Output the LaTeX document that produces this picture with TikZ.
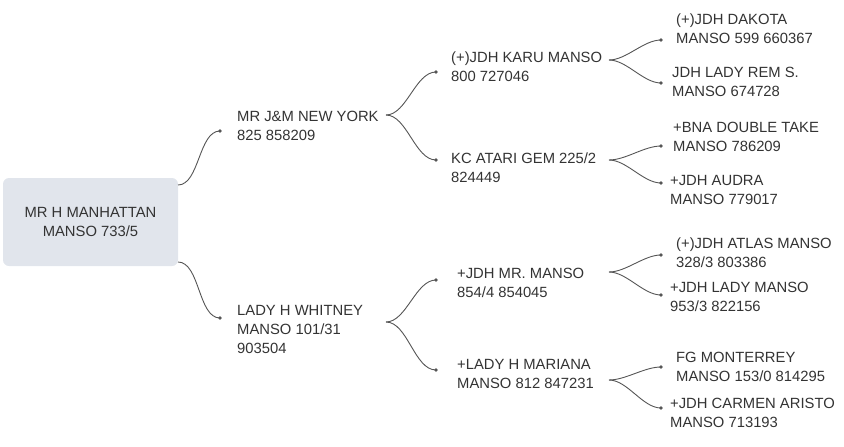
\documentclass[tikz,border=0pt]{standalone}
\usepackage{fontspec}
\setmainfont{Liberation Sans}
\definecolor{boxc}{HTML}{E1E5EC}
\definecolor{txt}{HTML}{333333}
\definecolor{ln}{HTML}{555555}
\begin{document}
\begin{tikzpicture}[x=1pt,y=-1pt,
  lbl/.style={anchor=north west,align=left,inner sep=0pt,text=txt,font=\fontsize{14.8}{19}\selectfont},
  con/.style={draw=ln,line width=0.9pt},
  dot/.style={circle,fill=ln,inner sep=0pt,minimum size=3.6pt}]
\useasboundingbox (0,0) rectangle (844,447);
\node[fill=boxc,rounded corners=6pt,minimum width=175pt,minimum height=88pt,inner sep=0pt,align=center,text=txt,font=\fontsize{14.8}{19}\selectfont] (root) at (90.5,222) {MR H MANHATTAN\\MANSO 733/5};
% level 1
\node[lbl] (ny) at (237,111) {MR J\&M NEW YORK\\825 858209};
\node[lbl] (wh) at (237,305) {LADY H WHITNEY\\MANSO 101/31\\903504};
% level 2
\node[lbl] (karu) at (451,52) {(+)JDH KARU MANSO\\800 727046};
\node[lbl] (atari) at (451,153) {KC ATARI GEM 225/2\\824449};
\node[lbl] (mr) at (457,268) {+JDH MR. MANSO\\854/4 854045};
\node[lbl] (mar) at (457,359) {+LADY H MARIANA\\MANSO 812 847231};
% leaves
\node[lbl] (dak) at (676,14) {(+)JDH DAKOTA\\MANSO 599 660367};
\node[lbl] (rem) at (672,67) {JDH LADY REM S.\\MANSO 674728};
\node[lbl] (bna) at (673,122) {+BNA DOUBLE TAKE\\MANSO 786209};
\node[lbl] (aud) at (670,175) {+JDH AUDRA\\MANSO 779017};
\node[lbl] (atl) at (676,238) {(+)JDH ATLAS MANSO\\328/3 803386};
\node[lbl] (lm) at (670,282) {+JDH LADY MANSO\\953/3 822156};
\node[lbl] (fg) at (676,352) {FG MONTERREY\\MANSO 153/0 814295};
\node[lbl] (car) at (670,398) {+JDH CARMEN ARISTO\\MANSO 713193};
% coordinates
\coordinate (r1) at (178,185); \coordinate (r2) at (178,262);
\coordinate (dny) at (220,131); \coordinate (dwh) at (220,318);
\coordinate (sny) at (386,115); \coordinate (swh) at (386,322);
\coordinate (dkaru) at (436,72); \coordinate (datari) at (436,160);
\coordinate (dmr) at (436,280); \coordinate (dmar) at (436,370);
\coordinate (skaru) at (609,60); \coordinate (satari) at (609,160);
\coordinate (smr) at (609,272); \coordinate (smar) at (609,380);
\coordinate (ddak) at (661,40); \coordinate (drem) at (661,83);
\coordinate (dbna) at (661,146); \coordinate (daud) at (661,183);
\coordinate (datl) at (661,255); \coordinate (dlm) at (661,295);
\coordinate (dfg) at (661,367); \coordinate (dcar) at (661,408);
\foreach \a/\b in {r1/dny,r2/dwh,sny/dkaru,sny/datari,swh/dmr,swh/dmar,skaru/ddak,skaru/drem,satari/dbna,satari/daud,smr/datl,smr/dlm,smar/dfg,smar/dcar}{
  \draw[con] (\a) to[out=0,in=180,looseness=0.8] (\b);
  \node[dot] at (\b) {};
}
\end{tikzpicture}
\end{document}
